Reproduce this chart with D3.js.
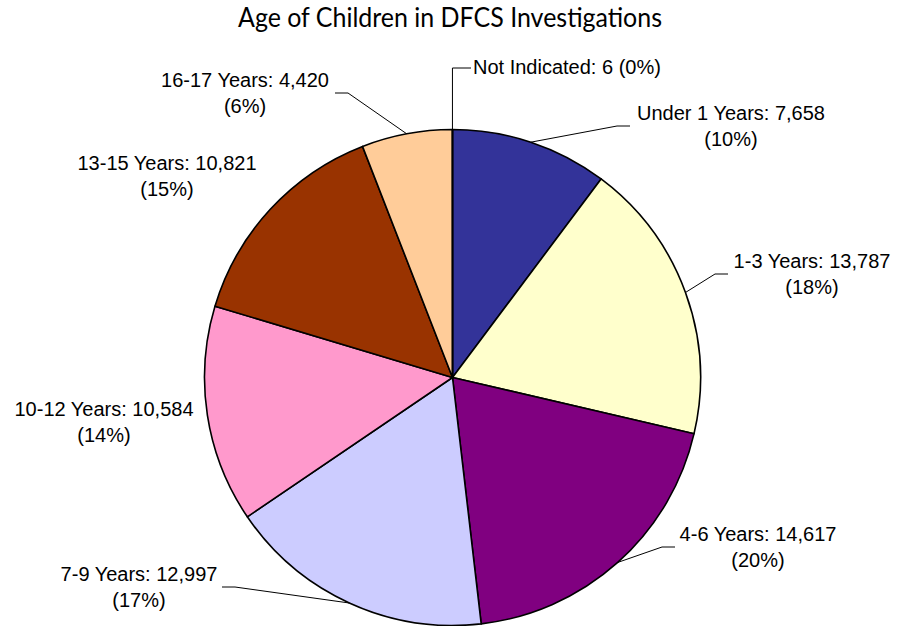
<!DOCTYPE html>
<html>
<head>
<meta charset="utf-8">
<script src="https://cdn.jsdelivr.net/npm/d3@7"></script>
<style>
  html, body { margin: 0; padding: 0; background: #fff; }
  svg { display: block; }
</style>
</head>
<body>
<svg id="chart" width="899" height="626"></svg>
<script>
const categories = ['Under 1 Years', '1-3 Years', '4-6 Years', '7-9 Years', '10-12 Years', '13-15 Years', '16-17 Years', 'Not Indicated'];
const counts = [7658, 13787, 14617, 12997, 10584, 10821, 4420, 6];
const percentLabels = ['10%', '18%', '20%', '17%', '14%', '15%', '6%', '0%'];
const colors = ['#333399', '#ffffcc', '#800080', '#ccccff', '#ff99cc', '#993300', '#ffcc99', '#ffffff'];

// label layout: text centre x, first baseline y, leader end x (null = no leader)
const labelX = [731, 812, 758, 139, 104, 167, 245, 473];
const labelY = [120, 268, 541, 581, 416, 170, 87, 74];
const leaderEndX = [630, 728, 675, 222, null, null, 335, 471];

const cx = 452.5, cy = 377.5, radius = 248;
const lineGap = 26;

const svg = d3.select('svg#chart');
const fmt = d3.format(',');

svg.append('text')
  .attr('x', 450)
  .attr('y', 27)
  .attr('text-anchor', 'middle')
  .attr('textLength', 424)
  .attr('lengthAdjust', 'spacingAndGlyphs')
  .style('font-family', 'Lato, "Open Sans", sans-serif')
  .style('font-size', '27px')
  .text('Age of Children in DFCS Investigations');

const pie = d3.pie().sort(null).value(d => d.value);
const arcs = pie(categories.map((c, i) => ({ name: c, value: counts[i], i })));

const arc = d3.arc().innerRadius(0).outerRadius(radius);
const edgeArc = d3.arc().innerRadius(radius).outerRadius(radius);

const g = svg.append('g').attr('transform', `translate(${cx},${cy})`);

g.selectAll('path.slice').data(arcs)
  .enter().append('path')
    .attr('class', 'slice')
    .attr('d', arc)
    .style('fill', d => colors[d.data.i])
    .style('stroke', '#000')
    .style('stroke-width', 1.6)
    .style('stroke-linejoin', 'round');

// leader lines
const labels = svg.append('g');
arcs.forEach(d => {
  const i = d.data.i;
  const oneLine = i === categories.length - 1;
  if (leaderEndX[i] !== null) {
    const [sx, sy] = edgeArc.centroid(d);
    const start = [cx + sx, cy + sy];
    const ly = oneLine ? labelY[i] - 6 : labelY[i] + 6;
    const right = leaderEndX[i] > start[0];
    const elbowX = oneLine ? start[0] : leaderEndX[i] + (right ? -13 : 13);
    labels.append('path')
      .attr('d', d3.line()([start, [elbowX, ly], [leaderEndX[i], ly]]))
      .style('fill', 'none')
      .style('stroke', '#000')
      .style('stroke-width', 1);
  }

  const t = labels.append('text')
    .attr('x', labelX[i])
    .attr('y', labelY[i])
    .attr('text-anchor', oneLine ? 'start' : 'middle')
    .style('font-family', '"Liberation Sans", Arial, sans-serif')
    .style('font-size', '20px')
    .style('fill', '#000');

  if (oneLine) {
    t.text(`${categories[i]}: ${fmt(counts[i])} (${percentLabels[i]})`);
  } else {
    t.append('tspan')
      .attr('x', labelX[i])
      .text(`${categories[i]}: ${fmt(counts[i])}`);
    t.append('tspan')
      .attr('x', labelX[i])
      .attr('dy', lineGap)
      .text(`(${percentLabels[i]})`);
  }
});
</script>
</body>
</html>
